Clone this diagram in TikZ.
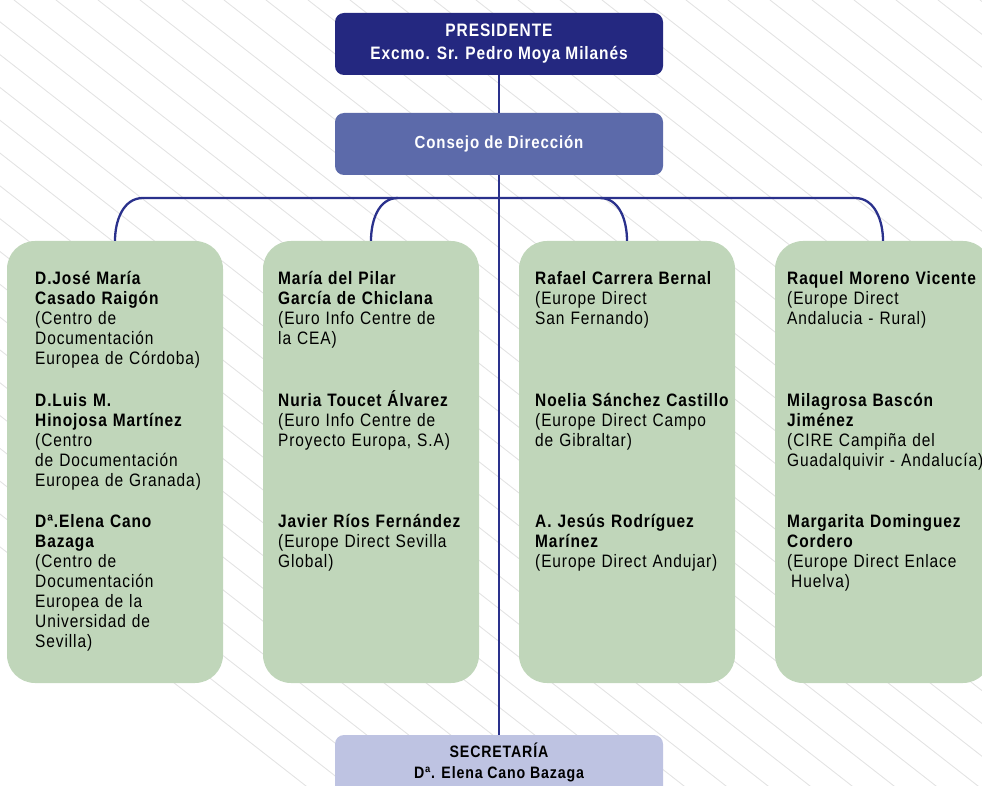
\documentclass[tikz,border=0pt]{standalone}
\usepackage{fontspec}
\setmainfont[FakeStretch=0.86,LetterSpace=5]{Liberation Sans}
\usepackage{tikz}
\usetikzlibrary{calc}
\definecolor{navy}{RGB}{36,40,128}
\definecolor{consejo}{RGB}{92,106,170}
\definecolor{oliva}{RGB}{192,214,186}
\definecolor{lavanda}{RGB}{190,195,226}
\definecolor{linea}{RGB}{42,49,140}

\begin{document}
\begin{tikzpicture}[x=1pt, y=1pt,
    deco/.style = {draw=black!11, line width=0.9pt},
    cargo/.style = {rounded corners=9pt, minimum width=328pt, minimum height=62pt, inner sep=0pt, align=center, font=\bfseries\fontsize{18}{23}\selectfont},
    grupo/.style = {fill=oliva, rounded corners=28pt, minimum width=216pt, minimum height=442pt, inner sep=0pt},
    txt/.style = {anchor=base west, inner sep=0pt, text width=230pt, align=left, font=\fontsize{18}{20}\selectfont},
    link/.style = {draw=linea, line width=2.3pt}]
        \useasboundingbox (0,0) rectangle (982,-786);
        \clip (0,0) rectangle (982,-786);
        \foreach \i in {0,...,44}
            \draw[deco] (-700+\i*42,0) -- ++(-38:1400);
        \node[cargo, fill=navy, text=white] at (499,-44) (pres) {PRESIDENTE\\Excmo. Sr. Pedro Moya Milanés};
        \node[cargo, fill=consejo, text=white, font=\bfseries\fontsize{17.5}{21}\selectfont] at (499,-144) (cons) {Consejo de Dirección};
        \node[cargo, fill=lavanda, minimum height=64pt] at (499,-767) (secr) {};
        \node[inner sep=0pt, align=center, font=\bfseries\fontsize{16.5}{21}\selectfont] at (499,-762) (secrtxt) {SECRETARÍA\\Dª. Elena Cano Bazaga};
        \node[grupo] at (115,-462) (col1) {};
        \node[grupo] at (371,-462) (col2) {};
        \node[grupo] at (627,-462) (col3) {};
        \node[grupo] at (883,-462) (col4) {};
        \draw[link] (pres) -- (cons);
        \draw[link] (cons) -- (secr);
        \draw[link] (col1.north) to[out=90,in=180] (143,-198) -- (855,-198) to[out=0,in=90] (col4.north);
        \draw[link] (col2.north) to[out=90,in=180] (398,-198);
        \draw[link] (col3.north) to[out=90,in=0] (600,-198);
        \node[txt] at (35,-284) (p1a) {\textbf{D.José María}\\\textbf{Casado Raigón}\\(Centro de\\Documentación\\Europea de Córdoba)};
        \node[txt] at (35,-406) (p1b) {\textbf{D.Luis M.}\\\textbf{Hinojosa Martínez}\\(Centro\\de Documentación\\Europea de Granada)};
        \node[txt] at (35,-527) (p1c) {\textbf{Dª.Elena Cano}\\\textbf{Bazaga}\\(Centro de\\Documentación\\Europea de la\\Universidad de\\Sevilla)};
        \node[txt] at (278,-284) (p2a) {\textbf{María del Pilar}\\\textbf{García de Chiclana}\\(Euro Info Centre de\\la CEA)};
        \node[txt] at (278,-406) (p2b) {\textbf{Nuria Toucet Álvarez}\\(Euro Info Centre de\\Proyecto Europa, S.A)};
        \node[txt] at (278,-527) (p2c) {\textbf{Javier Ríos Fernández}\\(Europe Direct Sevilla\\Global)};
        \node[txt] at (535,-284) (p3a) {\textbf{Rafael Carrera Bernal}\\(Europe Direct\\San Fernando)};
        \node[txt] at (535,-406) (p3b) {\textbf{Noelia Sánchez Castillo}\\(Europe Direct Campo\\de Gibraltar)};
        \node[txt] at (535,-527) (p3c) {\textbf{A. Jesús Rodríguez}\\\textbf{Marínez}\\(Europe Direct Andujar)};
        \node[txt] at (787,-284) (p4a) {\textbf{Raquel Moreno Vicente}\\(Europe Direct\\Andalucia - Rural)};
        \node[txt] at (787,-406) (p4b) {\textbf{Milagrosa Bascón}\\\textbf{Jiménez}\\(CIRE Campiña del\\Guadalquivir - Andalucía)};
        \node[txt] at (787,-527) (p4c) {\textbf{Margarita Dominguez}\\\textbf{Cordero}\\(Europe Direct Enlace\\\hspace*{4pt}Huelva)};
\end{tikzpicture}
\end{document}
